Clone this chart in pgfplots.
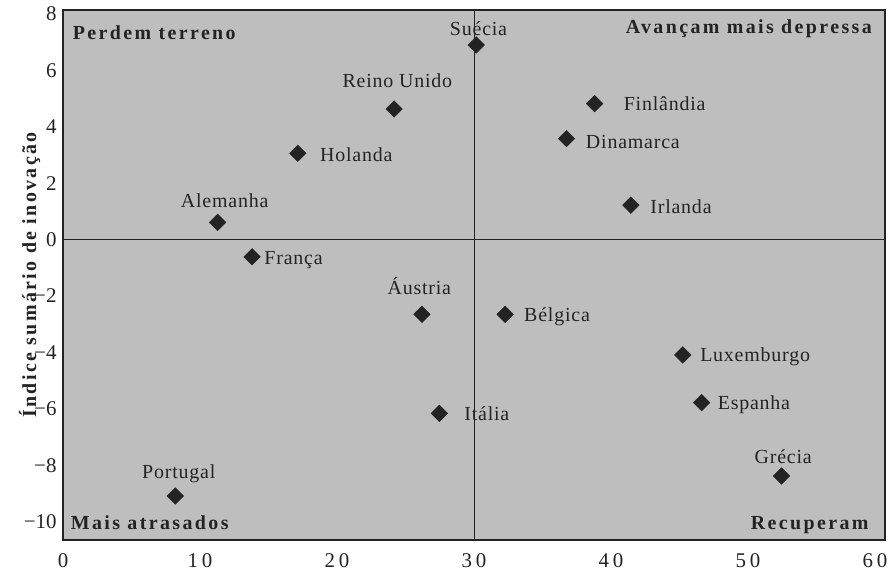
\documentclass[border=0pt]{standalone}
\usepackage{fontspec}
\setmainfont{Liberation Serif}
\usepackage{pgfplots}
\pgfplotsset{compat=1.18}
\definecolor{bg}{RGB}{190,190,190}
\definecolor{ink}{RGB}{35,35,35}
\newcommand\lab{\fontsize{20}{20}\selectfont\addfontfeatures{LetterSpace=4}}
\newcommand\qlab{\fontsize{20}{20}\selectfont\bfseries\addfontfeatures{LetterSpace=12}}
\pgfplotstableread{
x y
30.16 6.90
24.17 4.63
17.14 3.06
11.29 0.61
13.80 -0.61
38.81 4.82
36.75 3.58
41.45 1.22
26.20 -2.65
32.27 -2.65
45.24 -4.09
46.62 -5.78
27.47 -6.16
8.20 -9.09
52.44 -8.38
}\pts
\begin{document}
\begin{tikzpicture}
\useasboundingbox (-63bp,-36bp) rectangle (828bp,540bp);
\begin{axis}[
  at={(0,0)}, anchor=south west,
  width=822bp, height=530bp, scale only axis,
  xmin=0, xmax=60, ymin=-10.65, ymax=8.14,
  clip=false,
  axis background/.style={fill=bg},
  axis line style={line width=1.6bp, draw=ink},
  major tick length=0pt,
  xtick={0,10,...,60},
  xticklabels={0,10,20,30,40,50,\kern-20bp 60},
  ytick={-10,-8,...,8},
  yticklabels={−10,−8,−6,−4,−2,0,2,4,6,8},
  /pgf/number format/assume math mode=true,
  xticklabel style={font=\fontsize{21}{21}\selectfont\addfontfeatures{LetterSpace=18}, text=ink, yshift=-10bp},
  yticklabel style={font=\fontsize{21}{21}\selectfont, text=ink, xshift=-3bp},
  ylabel={Índice sumário de inovação},
  ylabel style={at={(axis description cs:-0.0328,0.5)}, anchor=base, font=\qlab, text=ink},
]
\draw[ink, line width=0.7bp] (axis cs:30,-10.65) -- (axis cs:30,8.14);
\draw[ink, line width=0.7bp] (axis cs:0,0) -- (axis cs:60,0);
\addplot[only marks, mark=square*, mark size=5.9, mark options={rotate=45, fill=ink, draw=ink}] table {\pts};
% country labels
\node[anchor=base, font=\lab, text=ink] at (axis cs:30.33,7.22) {Suécia};
\node[anchor=base, font=\lab, text=ink] at (axis cs:24.41,5.40) {Reino Unido};
\node[anchor=base west, font=\lab, text=ink, inner sep=0pt] at (axis cs:18.76,2.76) {Holanda};
\node[anchor=base, font=\lab, text=ink] at (axis cs:11.80,1.15) {Alemanha};
\node[anchor=base west, font=\lab, text=ink, inner sep=0pt] at (axis cs:14.69,-0.87) {França};
\node[anchor=base west, font=\lab, text=ink, inner sep=0pt] at (axis cs:40.92,4.57) {Finlândia};
\node[anchor=base west, font=\lab, text=ink, inner sep=0pt] at (axis cs:38.16,3.22) {Dinamarca};
\node[anchor=base west, font=\lab, text=ink, inner sep=0pt] at (axis cs:42.86,0.91) {Irlanda};
\node[anchor=base, font=\lab, text=ink] at (axis cs:26.01,-1.96) {Áustria};
\node[anchor=base west, font=\lab, text=ink, inner sep=0pt] at (axis cs:33.65,-2.91) {Bélgica};
\node[anchor=base west, font=\lab, text=ink, inner sep=0pt] at (axis cs:46.50,-4.33) {Luxemburgo};
\node[anchor=base west, font=\lab, text=ink, inner sep=0pt] at (axis cs:47.78,-6.04) {Espanha};
\node[anchor=base west, font=\lab, text=ink, inner sep=0pt] at (axis cs:29.28,-6.40) {Itália};
\node[anchor=base, font=\lab, text=ink] at (axis cs:8.45,-8.47) {Portugal};
\node[anchor=base, font=\lab, text=ink] at (axis cs:52.57,-7.93) {Grécia};
% quadrant labels
\node[anchor=base west, font=\qlab, text=ink, inner sep=0pt] at (axis cs:0.71,7.11) {Perdem terreno};
\node[anchor=base east, font=\qlab, text=ink, inner sep=0pt] at (axis cs:59.05,7.31) {Avançam mais depressa};
\node[anchor=base west, font=\qlab, text=ink, inner sep=0pt] at (axis cs:0.56,-10.26) {Mais atrasados};
\node[anchor=base east, font=\qlab, text=ink, inner sep=0pt] at (axis cs:58.81,-10.26) {Recuperam};
\end{axis}
\end{tikzpicture}
\end{document}
